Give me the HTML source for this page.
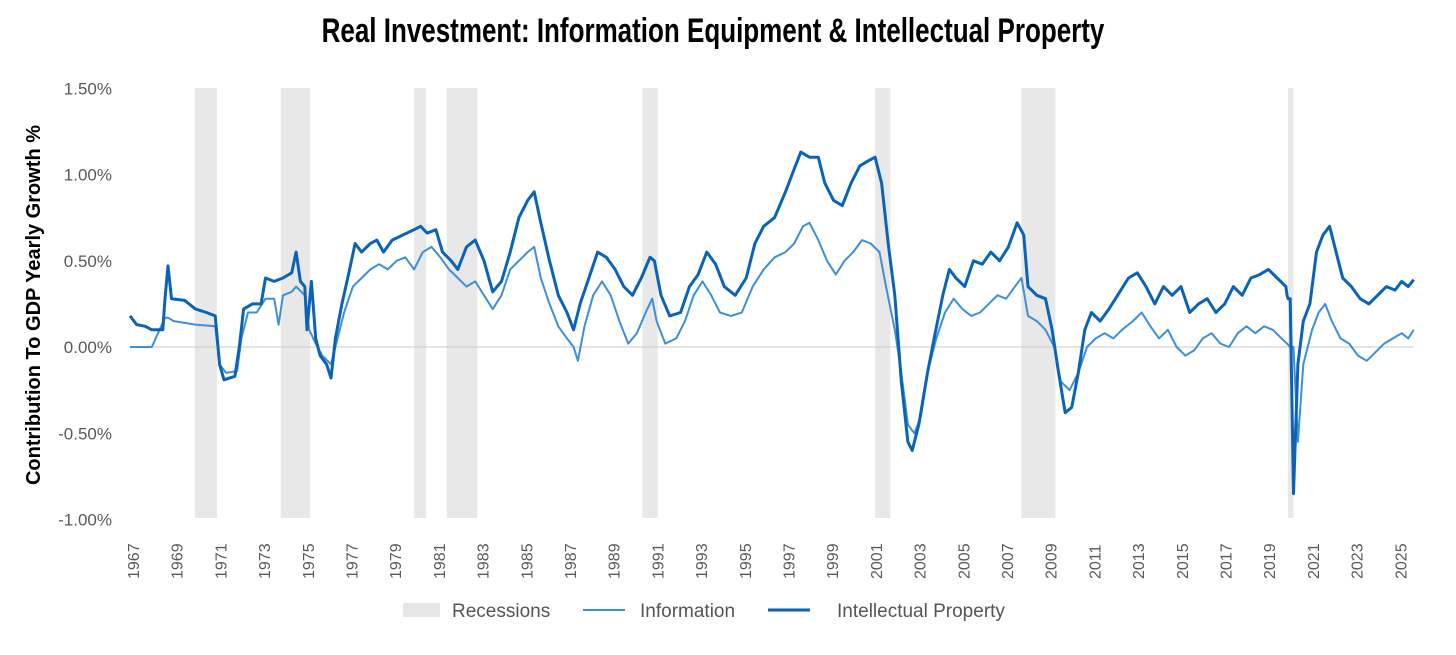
<!DOCTYPE html>
<html><head><meta charset="utf-8"><style>
body{margin:0;background:#fff;width:1456px;height:650px;overflow:hidden;font-family:"Liberation Sans",sans-serif}
</style></head><body>
<svg id="chart" width="1456" height="650" xmlns="http://www.w3.org/2000/svg">
<text x="713" y="42" text-anchor="middle" font-size="34" font-weight="bold" fill="#000" transform="translate(713,0) scale(0.765,1) translate(-713,0)">Real Investment: Information Equipment &amp; Intellectual Property</text>
<text transform="translate(40,305) rotate(-90)" text-anchor="middle" font-size="20" font-weight="bold" fill="#000">Contribution To GDP Yearly Growth %</text>
<g id="rec"></g><g id="grid"></g><g id="lines"></g><g id="ticks"></g>
<g>
<rect x="403" y="603" width="37" height="14" fill="#e6e6e6"/>
<text x="452" y="617" font-size="19" fill="#555">Recessions</text>
<line x1="583" y1="610" x2="625" y2="610" stroke="#3d8fd6" stroke-width="2"/>
<text x="640" y="617" font-size="19" fill="#555">Information</text>
<line x1="768" y1="610" x2="810" y2="610" stroke="#0b63b8" stroke-width="3"/>
<text x="837" y="617" font-size="19" fill="#555">Intellectual Property</text>
</g>
</svg>
<script>
const yTicks=[1.5,1.0,0.5,0,-0.5,-1.0];
const yTickLabels=["1.50%","1.00%","0.50%","0.00%","-0.50%","-1.00%"];
const xTickYears=[1967,1969,1971,1973,1975,1977,1979,1981,1983,1985,1987,1989,1991,1993,1995,1997,1999,2001,2003,2005,2007,2009,2011,2013,2015,2017,2019,2021,2023,2025];
const recStart=[1969.97,1973.9,1980.0,1981.5,1990.45,2001.1,2007.8,2020.0];
const recEnd=[1970.98,1975.24,1980.55,1982.9,1991.15,2001.8,2009.35,2020.25];
const ipDates=[1967.0,1967.3,1967.7,1968.0,1968.5,1968.6,1968.74,1968.9,1969.5,1970.0,1970.5,1970.9,1971.1,1971.3,1971.8,1972.0,1972.2,1972.6,1973.0,1973.2,1973.6,1974.0,1974.4,1974.6,1974.8,1975.0,1975.1,1975.3,1975.5,1975.7,1976.0,1976.2,1976.4,1976.7,1977.0,1977.3,1977.6,1978.0,1978.3,1978.6,1979.0,1979.5,1980.0,1980.3,1980.6,1981.0,1981.3,1981.7,1982.0,1982.4,1982.8,1983.2,1983.6,1984.0,1984.4,1984.8,1985.2,1985.5,1985.8,1986.2,1986.6,1987.0,1987.3,1987.6,1988.0,1988.4,1988.8,1989.2,1989.6,1990.0,1990.4,1990.8,1991.0,1991.3,1991.7,1992.2,1992.6,1993.0,1993.4,1993.8,1994.2,1994.7,1995.2,1995.6,1996.0,1996.5,1997.0,1997.3,1997.7,1998.1,1998.5,1998.8,1999.2,1999.6,2000.0,2000.4,2000.8,2001.1,2001.4,2001.7,2002.0,2002.3,2002.6,2002.8,2003.1,2003.5,2003.8,2004.2,2004.5,2004.8,2005.2,2005.6,2006.0,2006.4,2006.8,2007.2,2007.6,2007.9,2008.1,2008.5,2008.9,2009.2,2009.5,2009.8,2010.1,2010.4,2010.7,2011.0,2011.4,2011.8,2012.2,2012.7,2013.1,2013.5,2013.9,2014.3,2014.7,2015.1,2015.5,2015.9,2016.3,2016.7,2017.1,2017.5,2017.9,2018.3,2018.7,2019.1,2019.5,2019.9,2019.95,2020.0,2020.1,2020.25,2020.45,2020.7,2021.0,2021.3,2021.6,2021.9,2022.2,2022.5,2022.9,2023.3,2023.7,2024.1,2024.5,2024.9,2025.2,2025.5,2025.75];
const ipValues=[0.18,0.13,0.12,0.10,0.10,0.28,0.47,0.28,0.27,0.22,0.20,0.18,-0.10,-0.19,-0.17,0.0,0.22,0.25,0.25,0.40,0.38,0.40,0.43,0.55,0.38,0.35,0.10,0.38,0.05,-0.05,-0.10,-0.18,0.05,0.25,0.42,0.60,0.55,0.60,0.62,0.55,0.62,0.65,0.68,0.70,0.66,0.68,0.55,0.50,0.45,0.58,0.62,0.50,0.32,0.38,0.55,0.75,0.85,0.90,0.72,0.50,0.30,0.20,0.10,0.25,0.40,0.55,0.52,0.45,0.35,0.30,0.40,0.52,0.50,0.30,0.18,0.20,0.35,0.42,0.55,0.48,0.35,0.30,0.40,0.60,0.70,0.75,0.90,1.00,1.13,1.10,1.10,0.95,0.85,0.82,0.95,1.05,1.08,1.10,0.95,0.60,0.30,-0.20,-0.55,-0.60,-0.45,-0.15,0.05,0.30,0.45,0.40,0.35,0.50,0.48,0.55,0.50,0.58,0.72,0.65,0.35,0.30,0.28,0.10,-0.15,-0.38,-0.35,-0.15,0.10,0.20,0.15,0.22,0.30,0.40,0.43,0.35,0.25,0.35,0.30,0.35,0.20,0.25,0.28,0.20,0.25,0.35,0.30,0.40,0.42,0.45,0.40,0.35,0.30,0.28,0.28,-0.85,-0.10,0.15,0.25,0.55,0.65,0.70,0.55,0.40,0.35,0.28,0.25,0.30,0.35,0.33,0.38,0.35,0.39];
const infoDates=[1967.0,1967.3,1968.0,1968.6,1968.74,1969.0,1969.5,1970.0,1970.9,1971.1,1971.4,1971.9,1972.1,1972.4,1972.8,1973.2,1973.6,1973.8,1974.0,1974.4,1974.6,1975.0,1975.2,1975.5,1975.8,1976.2,1976.5,1976.8,1977.2,1977.6,1978.0,1978.4,1978.8,1979.2,1979.6,1980.0,1980.4,1980.8,1981.2,1981.6,1982.0,1982.4,1982.8,1983.2,1983.6,1984.0,1984.4,1984.8,1985.2,1985.5,1985.8,1986.2,1986.6,1987.0,1987.3,1987.5,1987.8,1988.2,1988.6,1989.0,1989.4,1989.8,1990.2,1990.6,1990.9,1991.1,1991.5,1992.0,1992.4,1992.8,1993.2,1993.6,1994.0,1994.5,1995.0,1995.5,1996.0,1996.5,1997.0,1997.4,1997.8,1998.1,1998.5,1998.9,1999.3,1999.7,2000.1,2000.5,2000.9,2001.3,2001.6,2002.0,2002.3,2002.6,2002.9,2003.2,2003.5,2003.9,2004.3,2004.7,2005.1,2005.5,2005.9,2006.3,2006.7,2007.1,2007.5,2007.8,2008.1,2008.5,2008.9,2009.3,2009.6,2010.0,2010.4,2010.8,2011.2,2011.6,2012.0,2012.4,2012.9,2013.3,2013.7,2014.1,2014.5,2014.9,2015.3,2015.7,2016.1,2016.5,2016.9,2017.3,2017.7,2018.1,2018.5,2018.9,2019.3,2019.7,2019.95,2020.1,2020.25,2020.45,2020.7,2021.1,2021.4,2021.7,2022.0,2022.4,2022.8,2023.2,2023.6,2024.0,2024.4,2024.8,2025.2,2025.5,2025.75];
const infoValues=[0,0,0,0.17,0.17,0.15,0.14,0.13,0.12,-0.10,-0.15,-0.14,0.05,0.20,0.20,0.28,0.28,0.13,0.30,0.32,0.35,0.30,0.10,0.02,-0.05,-0.10,0.05,0.20,0.35,0.40,0.45,0.48,0.45,0.50,0.52,0.45,0.55,0.58,0.52,0.45,0.40,0.35,0.38,0.30,0.22,0.30,0.45,0.50,0.55,0.58,0.40,0.25,0.12,0.05,0.0,-0.08,0.12,0.30,0.38,0.30,0.15,0.02,0.08,0.20,0.28,0.15,0.02,0.05,0.15,0.30,0.38,0.30,0.20,0.18,0.20,0.35,0.45,0.52,0.55,0.60,0.70,0.72,0.62,0.50,0.42,0.50,0.55,0.62,0.60,0.55,0.35,0.10,-0.15,-0.45,-0.50,-0.40,-0.15,0.05,0.20,0.28,0.22,0.18,0.20,0.25,0.30,0.28,0.35,0.40,0.18,0.15,0.10,0.0,-0.20,-0.25,-0.15,0.0,0.05,0.08,0.05,0.10,0.15,0.20,0.12,0.05,0.10,0.0,-0.05,-0.02,0.05,0.08,0.02,0.0,0.08,0.12,0.08,0.12,0.10,0.05,0.02,0.0,0.0,-0.55,-0.10,0.10,0.20,0.25,0.15,0.05,0.02,-0.05,-0.08,-0.03,0.02,0.05,0.08,0.05,0.10];

const NS="http://www.w3.org/2000/svg";
const X0=130,PX=21.85,Y0=347,PY=172.5,LEFT=133,RIGHT=1413,TOP=88,BOT=518;
const xs=d=>X0+(d-1967)*PX;
const ys=v=>Y0-v*PY;
function mk(tag,attrs,parent){const e=document.createElementNS(NS,tag);for(const k in attrs)e.setAttribute(k,attrs[k]);document.getElementById(parent).appendChild(e);return e;}
recStart.forEach((s,i)=>{
  const r=mk('rect',{x:xs(s),y:TOP,width:xs(recEnd[i])-xs(s),height:BOT-TOP,fill:'#e8e8e8'},'rec');
  
  
});
const z=mk('line',{x1:LEFT,x2:RIGHT,y1:ys(0),y2:ys(0),stroke:'#c8c8c8','stroke-width':1},'grid');


yTicks.forEach((t,i)=>{
  const e=mk('text',{x:112,y:ys(t)+6,'text-anchor':'end','font-size':17,fill:'#595959'},'ticks');
  e.textContent=yTickLabels[i];
  
  
});
xTickYears.forEach(y=>{
  const x=xs(y)+3;
  const e=mk('text',{x:0,y:0,transform:`translate(${x+6},579) rotate(-90)`,'font-size':16,fill:'#595959'},'ticks');
  e.textContent=String(y);
  
  
});
function path(d,v){return d.map((t,i)=>(i?'L':'M')+xs(t).toFixed(1)+','+ys(v[i]).toFixed(1)).join('');}
const l1=mk('path',{d:path(infoDates,infoValues),fill:'none',stroke:'#3d8fd6','stroke-width':2,'stroke-linejoin':'round'},'lines');


const l2=mk('path',{d:path(ipDates,ipValues),fill:'none',stroke:'#0b63b8','stroke-width':3,'stroke-linejoin':'round'},'lines');


</script>
</body></html>
